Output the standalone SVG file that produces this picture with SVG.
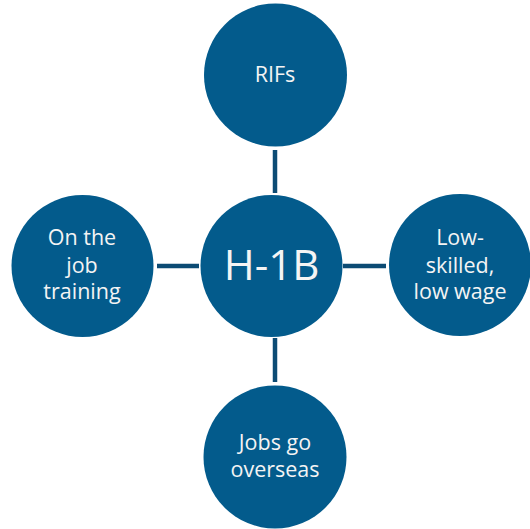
<svg xmlns="http://www.w3.org/2000/svg" width="530" height="529" viewBox="0 0 530 529">
  <style>
    .node { fill: #035b8c; }
    .link { stroke: #0c4b74; stroke-width: 4.5; fill: none; }
    .lbl { fill: #f4f4f4; font-family: "Open Sans", "Noto Sans", sans-serif; font-size: 21.5px; text-anchor: middle; }
    .hub { font-size: 42px; }
  </style>
  <rect width="530" height="529" fill="#ffffff"/>
  <g id="connectors">
    <line class="link" x1="275" y1="150" x2="275" y2="193"/>
    <line class="link" x1="275" y1="338" x2="275" y2="382"/>
    <line class="link" x1="157" y1="266" x2="199" y2="266"/>
    <line class="link" x1="343" y1="266" x2="386" y2="266"/>
  </g>
  <g id="hub">
    <circle class="node" cx="271.5" cy="266" r="71"/>
    <text class="lbl hub" x="271.5" y="280">H-1B</text>
  </g>
  <g id="rifs">
    <circle class="node" cx="275.5" cy="75" r="71.5"/>
    <text class="lbl" x="275" y="82">RIFs</text>
  </g>
  <g id="training">
    <circle class="node" cx="82.5" cy="266" r="71"/>
    <text class="lbl" x="82" y="245">On the</text>
    <text class="lbl" x="82" y="273">job</text>
    <text class="lbl" x="82" y="299">training</text>
  </g>
  <g id="lowwage">
    <circle class="node" cx="460" cy="265" r="71"/>
    <text class="lbl" x="460" y="245">Low-</text>
    <text class="lbl" x="460" y="273">skilled,</text>
    <text class="lbl" x="460" y="299">low wage</text>
  </g>
  <g id="overseas">
    <circle class="node" cx="275" cy="457" r="71.5"/>
    <text class="lbl" x="275" y="450">Jobs go</text>
    <text class="lbl" x="275" y="477">overseas</text>
  </g>
</svg>
